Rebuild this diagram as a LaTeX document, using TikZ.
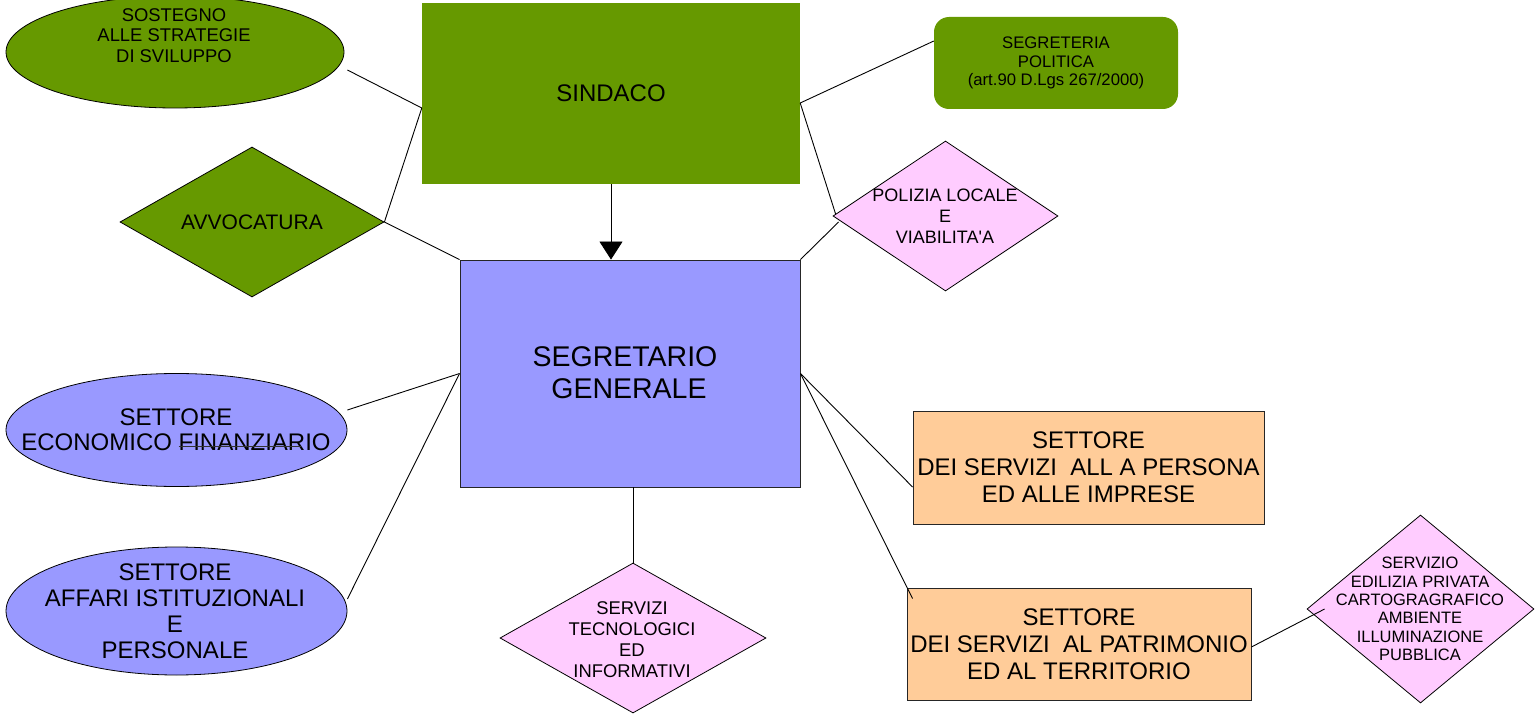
\documentclass[tikz,border=0pt]{standalone}
\usepackage{fontspec}
\setmainfont{Liberation Sans}
\newfontfamily\plainlib{Liberation Sans}
\usetikzlibrary{shapes.geometric,arrows.meta,calc}
\definecolor{grn}{HTML}{669900}
\definecolor{blu}{HTML}{9999FF}
\definecolor{pnk}{HTML}{FFCCFF}
\definecolor{orng}{HTML}{FFCC99}
\begin{document}
\begin{tikzpicture}[x=1pt,y=-1pt,
  box/.style={rectangle,inner sep=0pt,align=center},
  ell/.style={ellipse,inner sep=0pt,draw=black,line width=0.8pt},
  dia/.style={diamond,inner sep=0pt,draw=black,line width=0.8pt},
  txt/.style={align=center,inner sep=0pt},
  conn/.style={draw=black,line width=0.9pt},
  bdr/.style={draw=black!85,line width=0.9pt}]
\useasboundingbox (0,0) rectangle (1537,714);

% top row
\node[box,fill=grn,minimum width=378pt,minimum height=181pt,font=\fontsize{24}{28}\selectfont] (sind) at (611,93.5) {SINDACO};
\node[ell,fill=grn,minimum width=338pt,minimum height=112pt] (sost) at (175,52) {};
\node[txt,font=\fontsize{18.4}{20.5}\selectfont] (sostt) at (174,35.5) {SOSTEGNO\\ALLE STRATEGIE\\DI SVILUPPO};
\node[box,fill=grn,rounded corners=15pt,minimum width=244pt,minimum height=92pt,font=\fontsize{16.7}{18.5}\selectfont] (segrt) at (1056,63) {SEGRETERIA\\POLITICA\\(art.90 D.Lgs 267/2000)};

\node[dia,fill=grn,minimum width=264pt,minimum height=150pt] (avv) at (252,222) {};
\node[txt,font=\fontsize{21}{24}\selectfont] (avvt) at (252,222) {AVVOCATURA};

\node[dia,fill=pnk,minimum width=225pt,minimum height=150pt] (pol) at (945.5,216) {};
\node[txt,font=\fontsize{18}{21}\selectfont] (polt) at (945,216) {POLIZIA LOCALE\\E\\VIABILITA{\plainlib '}A};

% centre
\node[box,fill=blu,bdr,minimum width=340pt,minimum height=227pt] (segr) at (630,373.5) {};
\node[txt,font=\fontsize{28.5}{32}\selectfont] (segrtx) at (625,373) {SEGRETARIO\\\ GENERALE};

% left ellipses
\node[ell,fill=blu,minimum width=341pt,minimum height=113pt] (eco) at (176.5,430) {};
\node[txt,font=\fontsize{24}{25}\selectfont] (ecot) at (176,429.5) {SETTORE\\ECONOMICO FINANZIARIO};
\draw[line width=0.6pt,black!80] ($(eco.center)+(2,16.5)$) -- ($(eco.center)+(124,16.5)$);

\node[ell,fill=blu,minimum width=341pt,minimum height=128pt] (aff) at (176.5,611) {};
\node[txt,font=\fontsize{24}{26}\selectfont] (afft) at (175,611) {SETTORE\\AFFARI ISTITUZIONALI\\E\\PERSONALE};

% bottom diamond
\node[dia,fill=pnk,minimum width=266pt,minimum height=150pt] (tec) at (633,638) {};
\node[txt,font=\fontsize{18.4}{21}\selectfont] (tect) at (632,640) {SERVIZI\\TECNOLOGICI\\ED\\INFORMATIVI};

% right boxes
\node[box,fill=orng,bdr,minimum width=351pt,minimum height=113pt,font=\fontsize{24}{27}\selectfont] (o1) at (1088.5,467.5) {SETTORE\\DEI SERVIZI\ \ ALL A PERSONA\\ED ALLE IMPRESE};
\node[box,fill=orng,bdr,minimum width=344pt,minimum height=112pt,font=\fontsize{24}{27}\selectfont] (o2) at (1079,644) {SETTORE\\DEI SERVIZI\ \ AL PATRIMONIO\\ED AL TERRITORIO};

\node[dia,fill=pnk,minimum width=227pt,minimum height=188pt] (serv) at (1420.5,609) {};
\node[txt,font=\fontsize{16.5}{18.3}\selectfont] (servt) at (1420,609) {SERVIZIO\\EDILIZIA PRIVATA\\CARTOGRAGRAFICO\\AMBIENTE\\ILLUMINAZIONE\\PUBBLICA};

% connectors
\draw[conn] ($(sost.east)+(3,18)$) -- ($(sind.west)+(0,14.5)$);
\draw[conn] (avv.east) -- ($(sind.west)+(0,14.5)$);
\draw[conn] (avv.east) -- (segr.north west);
\draw[conn] ($(sind.east)+(0,9.5)$) -- ($(segrt.west)+(0,-22)$);
\draw[conn] ($(sind.east)+(0,9.5)$) -- ($(pol.west)+(3,-2)$);
\draw[conn] ($(pol.west)+(6,6)$) -- (segr.north east);
\draw[conn,-{Triangle[width=23pt,length=18pt]}] (sind.south) -- (sind.south |- segr.north);
\draw[conn] (segr.west) -- ($(eco.east)+(0,-20)$);
\draw[conn] (segr.west) -- ($(aff.east)+(0,-12)$);
\draw[conn] (segr.east) -- ($(o1.west)+(0,19.5)$);
\draw[conn] (segr.east) -- ($(o2.north west)+(6,11)$);
\draw[conn] (tec.north |- segr.south) -- (tec.north);
\draw[conn] ($(o2.east)+(0,3)$) -- ($(serv.west)+(18,0)$);
\end{tikzpicture}
\end{document}
